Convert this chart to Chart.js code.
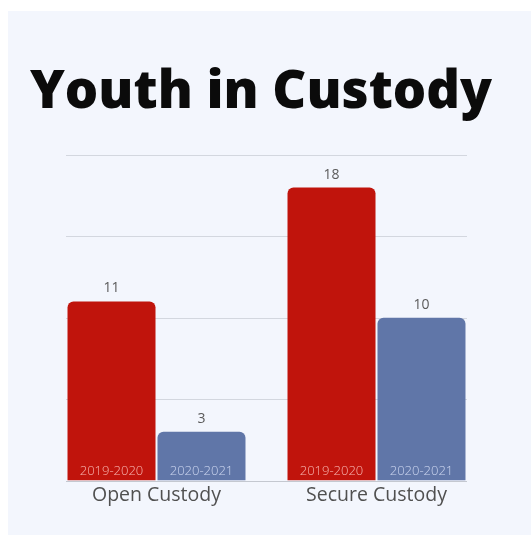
<!DOCTYPE html>
<html>
<head>
<meta charset="utf-8">
<script src="https://cdn.jsdelivr.net/npm/chart.js@4.4.1/dist/chart.umd.min.js"></script>
<style>
  html, body { margin: 0; padding: 0; background: #ffffff; }
  #panel { position: absolute; left: 8px; top: 11px; width: 523px; height: 524px; background: #f3f6fd; }
  #c { display: block; }
</style>
</head>
<body>
<div id="panel"><canvas id="c" width="523" height="524"></canvas></div>
<script>
const categories = ['Open Custody', 'Secure Custody'];
const seriesNames = ['2019-2020', '2020-2021'];
const values2019 = [11, 18];
const values2020 = [3, 10];
const gridValues = [0, 5, 10, 15, 20];
const titleText = 'Youth in Custody';

const RED = '#c0140c';
const BLUE = '#6076a8';

// Horizontal rules drawn over a narrower span than the bar area
const rules = {
  id: 'rules',
  beforeDatasetsDraw(chart) {
    const ctx = chart.ctx;
    const y = chart.scales.y;
    const x0 = 58, x1 = 459;
    ctx.save();
    gridValues.forEach(v => {
      const py = Math.round(y.getPixelForValue(v)) + 0.5;
      ctx.strokeStyle = v === 0 ? '#c4c8d0' : '#d3d7df';
      ctx.lineWidth = 1;
      ctx.beginPath();
      ctx.moveTo(x0, py);
      ctx.lineTo(x1, py);
      ctx.stroke();
    });
    ctx.restore();
  }
};

// Title, value labels above bars and season labels inside the bar bases
const annotate = {
  id: 'annotate',
  afterDatasetsDraw(chart) {
    const ctx = chart.ctx;
    ctx.save();
    ctx.fillStyle = '#0b0b0b';
    ctx.font = '800 52.5px "Open Sans"';
    ctx.textAlign = 'left';
    ctx.textBaseline = 'alphabetic';
    ctx.fillText(titleText, 22, 97);

    chart.data.datasets.forEach((ds, di) => {
      const meta = chart.getDatasetMeta(di);
      meta.data.forEach((bar, i) => {
        ctx.textAlign = 'center';
        ctx.textBaseline = 'middle';
        ctx.font = '400 14px "Open Sans"';
        ctx.fillStyle = '#5a5a5a';
        ctx.fillText(String(ds.data[i]), bar.x, bar.y - 13);
        ctx.font = '300 13px "Open Sans"';
        ctx.fillStyle = di === 0 ? 'rgba(255,205,200,0.85)' : 'rgba(220,228,250,0.85)';
        ctx.fillText(ds.label, bar.x, bar.base - 9);
      });
    });
    ctx.restore();
  }
};

new Chart(document.getElementById('c'), {
  type: 'bar',
  data: {
    labels: categories,
    datasets: [
      { label: seriesNames[0], data: values2019, backgroundColor: RED,
        borderRadius: { topLeft: 6, topRight: 6 }, borderSkipped: 'bottom',
        categoryPercentage: 0.818, barPercentage: 0.978 },
      { label: seriesNames[1], data: values2020, backgroundColor: BLUE,
        borderRadius: { topLeft: 6, topRight: 6 }, borderSkipped: 'bottom',
        categoryPercentage: 0.818, barPercentage: 0.978 }
    ]
  },
  options: {
    responsive: false,
    animation: false,
    layout: { padding: { left: 38.5, right: 44.5, top: 144, bottom: 25 } },
    plugins: { legend: { display: false }, tooltip: { enabled: false }, title: { display: false } },
    scales: {
      x: {
        grid: { display: false, drawTicks: false },
        border: { display: false },
        ticks: { color: '#505050', font: { family: 'Open Sans', size: 19.5, weight: 400, lineHeight: 1 }, padding: 5 }
      },
      y: {
        display: false,
        min: 0, max: 20,
        ticks: { stepSize: 5 }
      }
    }
  },
  plugins: [rules, annotate]
});
</script>
</body>
</html>
